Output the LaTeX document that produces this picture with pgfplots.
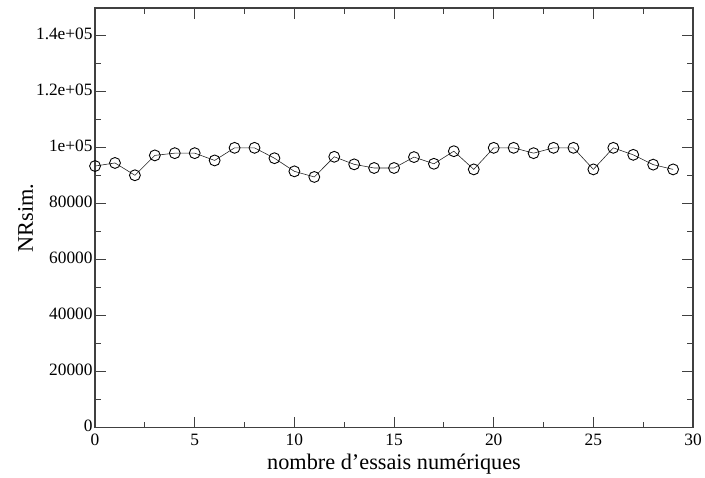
\documentclass[border=0pt]{standalone}
\usepackage{pgfplots}
\pgfplotsset{compat=1.18}
\usepackage{fontspec}
\setmainfont{Liberation Serif}
\begin{document}
\begin{tikzpicture}
\begin{axis}[
  scale only axis,
  width=604pt, height=424pt,
  xmin=0, xmax=30, ymin=0, ymax=150000,
  xtick={0,5,...,30},
  minor x tick num=1,
  ytick={0,20000,40000,60000,80000,100000,120000,140000},
  yticklabels={0,20000,40000,60000,80000,1e+05,1.2e+05,1.4e+05},
  minor y tick num=1,
  scaled y ticks=false,
  tick align=inside,
  major tick length=11pt,
  minor tick length=6pt,
  axis line style={line width=1.2pt, draw=black!75},
  every tick/.style={line width=1pt, draw=black!75},
  /pgf/number format/assume math mode=true,
  ticklabel style={font=\fontsize{17.5}{20}\selectfont},
  xticklabel style={yshift=-3pt},
  yticklabel style={xshift=1pt, yshift=2pt},
  label style={font=\fontsize{22.5}{26}\selectfont},
  xlabel={nombre d’essais numériques},
  ylabel={NRsim.},
  xlabel style={yshift=-1pt},
  ylabel style={yshift=-4pt},
]
\addplot[black!85, line width=0.6pt, mark=o, mark size=5.5pt, mark options={line width=0.9pt, black}]
coordinates {
(0,93500) (1,94600) (2,90200) (3,97300) (4,98100) (5,98100) (6,95500) (7,100000)
(8,100000) (9,96300) (10,91600) (11,89600) (12,96800) (13,94100) (14,92800)
(15,92800) (16,96700) (17,94300) (18,98800) (19,92300) (20,100000) (21,100000)
(22,98100) (23,100000) (24,100000) (25,92300) (26,100000) (27,97500) (28,94000)
(29,92300)
};
\path (rel axis cs:0,0) ++(-96pt,-46pt) coordinate (bl);
\path (rel axis cs:1,1) ++(5pt,8pt) coordinate (tr);
\end{axis}
\useasboundingbox (bl) rectangle (tr);
\end{tikzpicture}
\end{document}
